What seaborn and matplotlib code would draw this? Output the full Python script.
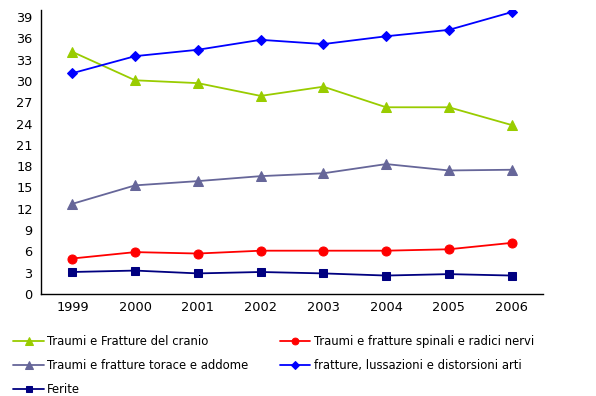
import matplotlib
matplotlib.use("Agg")
import matplotlib.pyplot as plt
import seaborn as sns
import pandas as pd
import numpy as np

years = ["1999", "2000", "2001", "2002", "2003", "2004", "2005", "2006"]

cranio = [34.1, 30.1, 29.7, 27.9, 29.2, 26.3, 26.3, 23.8]
spinali = [5.0, 5.9, 5.7, 6.1, 6.1, 6.1, 6.3, 7.2]
torace = [12.7, 15.3, 15.9, 16.6, 17.0, 18.3, 17.4, 17.5]
arti = [31.1, 33.5, 34.4, 35.8, 35.2, 36.3, 37.2, 39.7]
ferite = [3.1, 3.3, 2.9, 3.1, 2.9, 2.6, 2.8, 2.6]

series = [
    ("Traumi e Fratture del cranio", cranio, "#99CC00", "^", 7),
    ("Traumi e fratture spinali e radici nervi", spinali, "#FF0000", "o", 6.5),
    ("Traumi e fratture torace e addome", torace, "#666699", "^", 7),
    ("fratture, lussazioni e distorsioni arti", arti, "#0000FF", "D", 5.5),
    ("Ferite", ferite, "#000080", "s", 6),
]

sns.set_style("white")
plt.rcParams["font.family"] = ["DejaVu Sans"]
plt.rcParams["text.color"] = "black"
plt.rcParams["xtick.color"] = "black"
plt.rcParams["ytick.color"] = "black"

fig = plt.figure(figsize=(5.96, 3.96), dpi=100)
ax = fig.add_axes([41 / 596, 1 - 294 / 396, (543 - 41) / 596, (294 - 10) / 396])

pos = np.arange(len(years))
handles = {}
for name, vals, color, marker, ms in series:
    df = pd.DataFrame({"x": pos, "y": vals})
    sns.lineplot(data=df, x="x", y="y", ax=ax, color=color, marker=marker,
                 markersize=ms, markeredgecolor=color, linewidth=1.3,
                 label=name, legend=False)
    handles[name] = ax.lines[-1]

ax.set_xlim(-0.5, len(years) - 0.5)
ax.set_ylim(0, 40)
ax.set_yticks(np.arange(0, 40, 3))
ax.set_xticks(np.arange(-0.5, len(years), 1.0))
ax.set_xticklabels([])
ax.set_xticks(pos, minor=True)
ax.set_xticklabels(years, minor=True)
ax.tick_params(axis="x", which="major", direction="out", length=4, width=1, color="black")
ax.tick_params(axis="x", which="minor", length=0, labelsize=9.3, pad=5, labelcolor="black")
ax.tick_params(axis="y", direction="out", length=4, width=1, color="black",
               labelsize=9.3, pad=2, labelcolor="black")
ax.set_xlabel("")
ax.set_ylabel("")
for s in ["top", "right"]:
    ax.spines[s].set_visible(False)
for s in ["left", "bottom"]:
    ax.spines[s].set_color("black")
    ax.spines[s].set_linewidth(1)

order = [series[0][0], series[2][0], series[4][0], series[1][0], series[3][0]]
leg = fig.legend([handles[n] for n in order], order, ncol=2, loc="upper left",
                 bbox_to_anchor=(0.005, 0.18), frameon=False, fontsize=8.4,
                 handlelength=2.6, handletextpad=0.3, columnspacing=2.7,
                 labelspacing=0.95, markerscale=0.75)
for t in leg.get_texts():
    t.set_color("black")

fig.savefig("out.png", dpi=100)
